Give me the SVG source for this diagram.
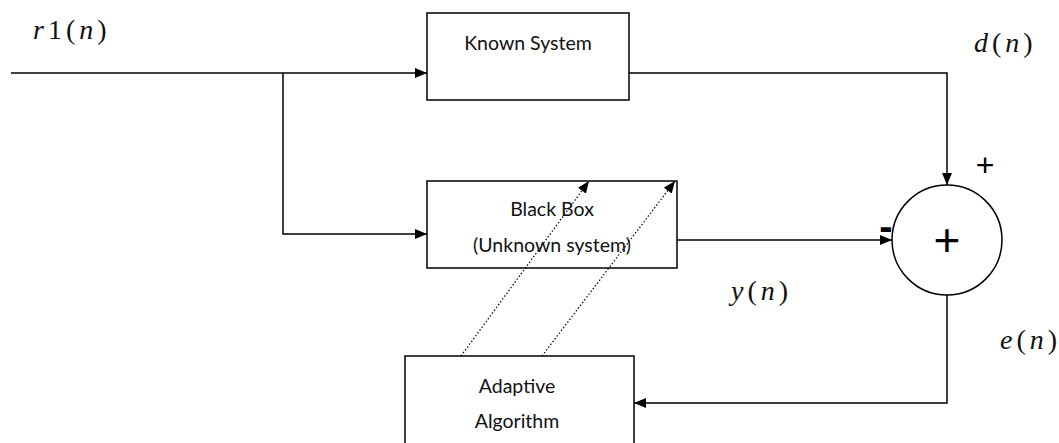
<svg xmlns="http://www.w3.org/2000/svg" width="1059" height="443" viewBox="0 0 1059 443">
<style>
.box{fill:none;stroke:#000;stroke-width:1.5}
.ln{fill:none;stroke:#000;stroke-width:1.5}
.dot{fill:none;stroke:#000;stroke-width:1.2;stroke-dasharray:1.5 2}
.t{font-family:Lato,"Open Sans","Liberation Sans",sans-serif;font-size:19.5px;fill:#111;text-anchor:middle}
.m{font-family:"Liberation Serif",serif;font-size:28px;fill:#111;letter-spacing:4px}
.i{font-style:italic}
.sg{font-family:"Liberation Sans",sans-serif;fill:#000;text-anchor:middle}
</style>
<defs>
<marker id="ah" viewBox="0 0 12 10" refX="12" refY="5" markerWidth="12" markerHeight="10" markerUnits="userSpaceOnUse" orient="auto">
<path d="M0,0 L12,5 L0,10 Z" fill="#000"/>
</marker>
</defs>
<g id="connectors">
<path class="ln" d="M11,73 H427" marker-end="url(#ah)"/>
<path class="ln" d="M283,73 V234 H427" marker-end="url(#ah)"/>
<path class="ln" d="M629,73 H947 V185" marker-end="url(#ah)"/>
<path class="ln" d="M677,240 H892" marker-end="url(#ah)"/>
<path class="ln" d="M947,295 V403 H634" marker-end="url(#ah)"/>
<path class="dot" d="M461,356 L589,181" marker-end="url(#ah)"/>
<path class="dot" d="M542,356 L675,181" marker-end="url(#ah)"/>
</g>
<g id="known-system">
<rect class="box" x="427" y="13" width="202" height="87"/>
<text class="t" x="528" y="50">Known System</text>
</g>
<g id="black-box">
<rect class="box" x="427" y="181" width="250" height="87"/>
<text class="t" x="552" y="216">Black Box</text>
<text class="t" x="552" y="252">(Unknown system)</text>
</g>
<g id="adaptive-algorithm">
<rect class="box" x="405" y="356" width="229" height="100"/>
<text class="t" x="517" y="393">Adaptive</text>
<text class="t" x="517" y="428">Algorithm</text>
</g>
<g id="sum">
<circle class="ln" cx="947" cy="240" r="55"/>
<text class="sg" x="947" y="256" font-size="46">+</text>
</g>
<g id="labels">
<text class="m" x="33" y="39"><tspan class="i">r</tspan>1(<tspan class="i">n</tspan>)</text>
<text class="m" x="974" y="52"><tspan class="i">d</tspan>(<tspan class="i">n</tspan>)</text>
<text class="m" x="731" y="300"><tspan class="i">y</tspan>(<tspan class="i">n</tspan>)</text>
<text class="m" x="1000" y="349"><tspan class="i">e</tspan>(<tspan class="i">n</tspan>)</text>
<text class="sg" x="985" y="176" font-size="32">+</text>
<text class="sg" x="886" y="240" font-size="40" font-weight="bold">-</text>
</g>
</svg>
